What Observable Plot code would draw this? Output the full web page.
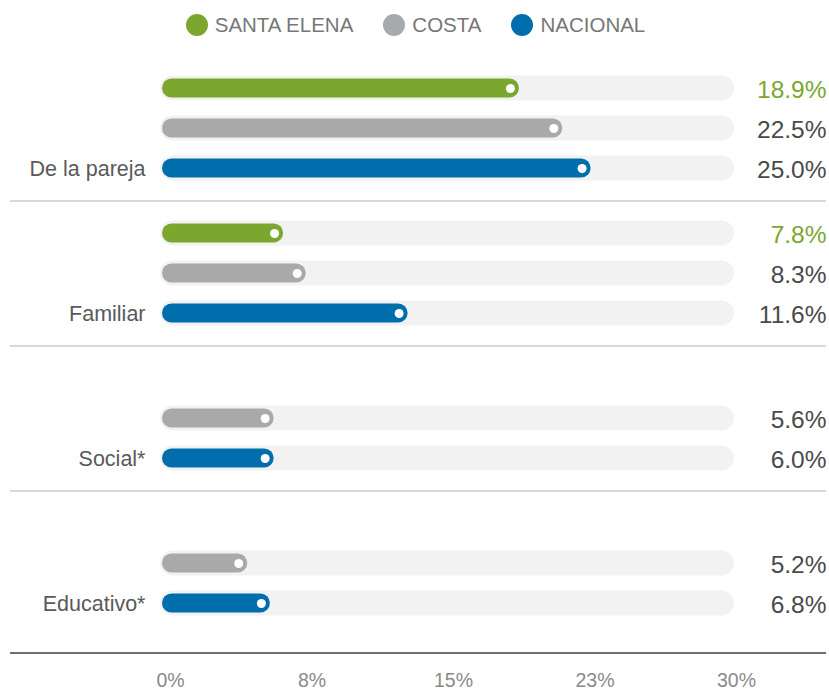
<!DOCTYPE html>
<html>
<head>
<meta charset="utf-8">
<script src="https://cdn.jsdelivr.net/npm/d3@7"></script>
<script src="https://cdn.jsdelivr.net/npm/@observablehq/plot@0.6"></script>
<style>
  html, body { margin: 0; padding: 0; background: #fff; }
  #legend {
    height: 50px; display: flex; justify-content: center; align-items: center;
    gap: 30px; padding-left: 2px; box-sizing: border-box; width: 829px;
    font-family: "Liberation Sans", Arial, sans-serif; font-size: 20.5px; color: #777;
  }
  .item { display: flex; align-items: center; }
  .sw { width: 22px; height: 22px; border-radius: 50%; margin-right: 7px; }
  #chart svg { display: block; }
</style>
</head>
<body>
<div id="legend"></div>
<div id="chart"></div>
<script>
// ---- data ----
const groups = ["De la pareja", "Familiar", "Social*", "Educativo*"];
const series = ["SANTA ELENA", "COSTA", "NACIONAL"];
const seriesColors = ["#7ba72f", "#a8a9ab", "#006ead"];

// printed percentages (right-hand labels)
const santaElena = [18.9, 7.8, null, null];
const costa = [22.5, 8.3, 5.6, 5.2];
const nacional = [25.0, 11.6, 6.0, 6.8];

// bar lengths as drawn in the reference (in % of the 0–30 axis)
const santaElenaBar = [18.6, 6.1, null, null];
const costaBar = [20.9, 7.3, 5.6, 4.2];
const nacionalBar = [22.4, 12.7, 5.6, 5.4];

const tickValues = [0, 7.5, 15, 22.5, 30];
const tickLabels = ["0%", "8%", "15%", "23%", "30%"];
const xMax = 30;

// ---- table ----
const labelsBySeries = [santaElena, costa, nacional];
const barsBySeries = [santaElenaBar, costaBar, nacionalBar];
const rows = [];
groups.forEach((g, i) => series.forEach((s, j) => {
  const v = labelsBySeries[j][i];
  if (v == null) return;
  rows.push({group: g, series: s, value: v, bar: barsBySeries[j][i]});
}));
const lastRows = rows.filter(d => d.series === "NACIONAL");
const sepRows = lastRows.slice(0, -1);
const axisRows = lastRows.slice(-1);
const tickLabelOf = new Map(tickValues.map((t, i) => [t, tickLabels[i]]));

// ---- legend ----
const legend = document.getElementById("legend");
series.forEach((s, j) => {
  const it = document.createElement("div");
  it.className = "item";
  it.innerHTML = `<span class="sw" style="background:${seriesColors[j]}"></span><span>${s}</span>`;
  legend.appendChild(it);
});

// ---- chart ----
const chart = Plot.plot({
  width: 829,
  height: 641,
  marginTop: 5,
  marginBottom: 56,
  marginLeft: 10,
  marginRight: 3,
  style: {fontFamily: "'Liberation Sans', Arial, sans-serif", background: "#fff"},
  x: {domain: [0, xMax], range: [168, 734]},
  y: {domain: series, padding: 0, insetTop: 12.5, insetBottom: 12.5, axis: null},
  fy: {domain: groups, padding: 0, axis: null},
  color: {domain: series, range: seriesColors},
  marks: [
    // track
    Plot.barX(rows, {fy: "group", y: "series", x1: 0, x2: () => xMax,
      fill: "#f2f2f2", insetTop: 7.5, insetBottom: 7.5, insetLeft: -8, rx: 12.5}),
    // bars
    Plot.barX(rows, {fy: "group", y: "series", x1: 0, x2: "bar", fill: "series",
      insetTop: 10.5, insetBottom: 10.5, insetLeft: -6, rx: 9.5}),
    // white end dots
    Plot.dot(rows, {fy: "group", y: "series", x: "bar", r: 4.5, fill: "#fff", dx: -9}),
    // value labels
    Plot.text(rows.filter(d => d.series === "SANTA ELENA"), {fy: "group", y: "series",
      frameAnchor: "right", textAnchor: "end", text: d => d.value.toFixed(1) + "%",
      fill: seriesColors[0], fontSize: 24.5, dy: 1.5}),
    Plot.text(rows.filter(d => d.series !== "SANTA ELENA"), {fy: "group", y: "series",
      frameAnchor: "right", textAnchor: "end", text: d => d.value.toFixed(1) + "%",
      fill: "#4a4a4a", fontSize: 24.5, dy: 1.5}),
    // category labels
    Plot.text(lastRows, {fy: "group", y: "series", x: 0, dx: -23, textAnchor: "end",
      text: "group", fill: "#5a5a5a", fontSize: 21.5, dy: 1}),
    // group separators
    Plot.ruleY(sepRows, {fy: "group", y: "series", dy: 32.5, stroke: "#b3b3b3", strokeWidth: 1.2}),
    // bottom axis line
    Plot.ruleY(axisRows, {fy: "group", y: "series", dy: 49.5, stroke: "#6e6e6e", strokeWidth: 2}),
    // x tick labels
    Plot.axisX(tickValues, {tickSize: 0, tickPadding: 38, label: null,
      tickFormat: d => tickLabelOf.get(d), fontSize: 19.5, fill: "#8a8a8a", dx: 2})
  ]
});
document.getElementById("chart").appendChild(chart);
</script>
</body>
</html>
